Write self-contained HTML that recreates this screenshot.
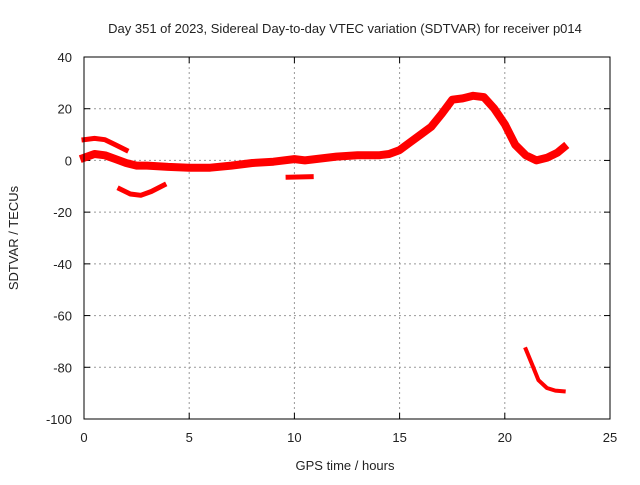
<!DOCTYPE html>
<html><head><meta charset="utf-8"><style>
body{margin:0;background:#fff;}
svg text{font-family:"Liberation Sans",sans-serif;font-size:13px;fill:#222;}
</style></head><body>
<svg id="c" width="640" height="480">
<text x="345" y="33" text-anchor="middle">Day 351 of 2023, Sidereal Day-to-day VTEC variation (SDTVAR) for receiver p014</text>
<text x="345" y="470" text-anchor="middle">GPS time / hours</text>
<text transform="translate(18,238) rotate(-90)" text-anchor="middle">SDTVAR / TECUs</text>
<g id="grid"></g><g id="series"></g>
<rect x="84" y="57" width="526" height="362" fill="none" stroke="#000" stroke-width="1"/>
</svg>
<script>
const xTicks=[0,5,10,15,20,25];
const yTicks=[40,20,0,-20,-40,-60,-80,-100];
const mainX=[0,0.5,1,1.5,2,2.5,3,4,5,6,7,8,9,10,10.5,11,12,13,14,14.5,15,15.5,16,16.5,17,17.5,18,18.5,19,19.5,20,20.5,21,21.5,22,22.5,22.8];
const mainY=[1,2.5,2,0.5,-1,-2,-2,-2.5,-2.8,-2.8,-2,-1,-0.5,0.5,0,0.5,1.5,2,2,2.5,4,7,10,13,18,23.5,24,25,24.5,20,14,6,2,0,1,3,5];
const upperX=[0,0.5,1,1.5,2];
const upperY=[8,8.5,8,6,4];
const lowerX=[1.7,2.2,2.7,3.2,3.8];
const lowerY=[-11,-13,-13.5,-12,-9.5];
const shortX=[9.7,10.8];
const shortY=[-6.5,-6.3];
const dropX=[21,21.3,21.6,22,22.4,22.8];
const dropY=[-73,-79,-85,-88,-89,-89.3];
const X0=84,X1=610,Y0=57,Y1=419;
const sx=v=>X0+(v-0)/25*(X1-X0);
const sy=v=>Y0+(40-v)/140*(Y1-Y0);
const NS="http://www.w3.org/2000/svg";
const grid=document.getElementById('grid'),ser=document.getElementById('series');
function mk(tag,attrs,parent){const e=document.createElementNS(NS,tag);for(const k in attrs)e.setAttribute(k,attrs[k]);parent.appendChild(e);return e;}
xTicks.forEach(t=>{
 const x=sx(t);
 if(t>0&&t<25){const l=mk('line',{x1:x,x2:x,y1:Y0,y2:Y1,stroke:'#999','stroke-dasharray':'2,3'},grid);
 
 }
 mk('line',{x1:x,x2:x,y1:Y1,y2:Y1-6,stroke:'#000'},grid);
 mk('line',{x1:x,x2:x,y1:Y0,y2:Y0+6,stroke:'#000'},grid);
 const tx=mk('text',{x:x,y:Y1+23,'text-anchor':'middle'},grid);tx.textContent=t;
 
 
});
yTicks.forEach(t=>{
 const y=sy(t);
 if(t<40&&t>-100){const l=mk('line',{x1:X0,x2:X1,y1:y,y2:y,stroke:'#999','stroke-dasharray':'2,3'},grid);
 
 }
 mk('line',{x1:X0,x2:X0+6,y1:y,y2:y,stroke:'#000'},grid);
 mk('line',{x1:X1,x2:X1-6,y1:y,y2:y,stroke:'#000'},grid);
 const tx=mk('text',{x:X0-12,y:y+5,'text-anchor':'end'},grid);tx.textContent=t;
 
 
});
function line(xs,ys,w,name){
 const p=xs.map((v,i)=>sx(v).toFixed(1)+','+sy(ys[i]).toFixed(1)).join(' ');
 const e=mk('polyline',{points:p,fill:'none',stroke:'#f00','stroke-width':w,'stroke-linejoin':'round','stroke-linecap':'square'},ser);
 
 
}
line(mainX,mainY,8,'series-main');
line(upperX,upperY,5,'series-upper-arc');
line(lowerX,lowerY,5,'series-lower-arc');
line(shortX,shortY,5,'series-short-segment');
line(dropX,dropY,4,'series-drop');
</script>
</body></html>
